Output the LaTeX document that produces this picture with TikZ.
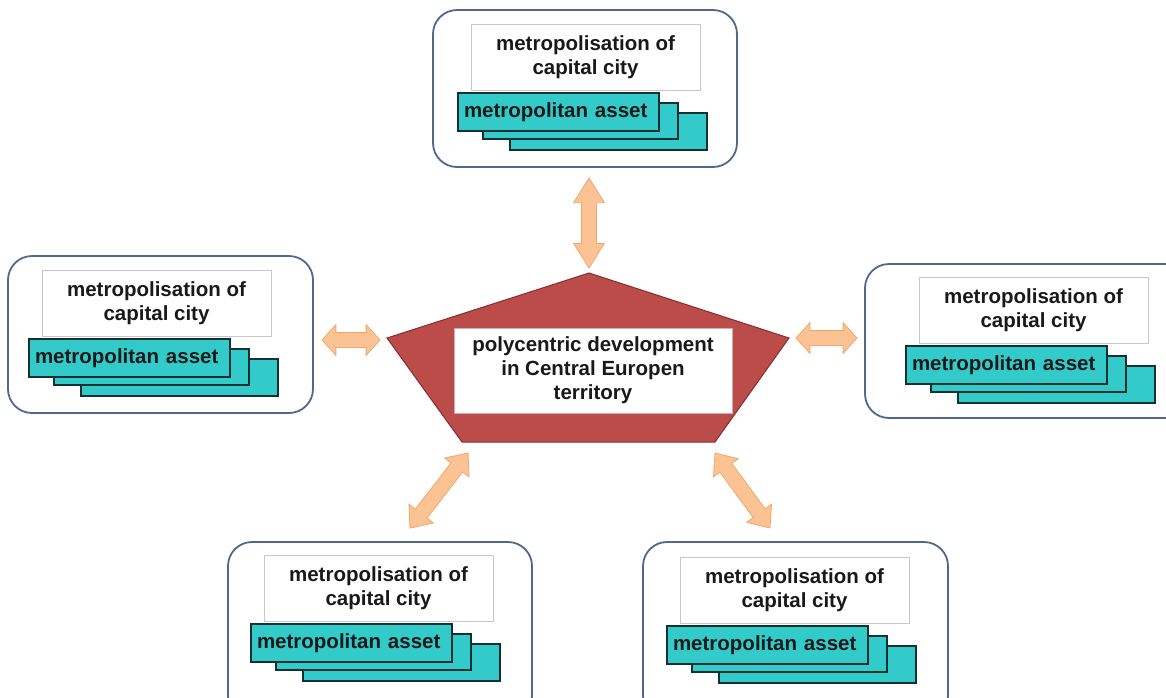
\documentclass[tikz,border=0pt]{standalone}
\usepackage{fontspec}
\setmainfont{Liberation Sans}
\usetikzlibrary{shapes.arrows}

\definecolor{framecol}{RGB}{78,104,142}
\definecolor{assetfill}{RGB}{51,202,202}
\definecolor{assetline}{RGB}{22,48,50}
\definecolor{labelline}{RGB}{200,200,200}
\definecolor{hubfill}{RGB}{188,76,73}
\definecolor{hubline}{RGB}{135,45,45}
\definecolor{linkfill}{RGB}{251,194,148}
\definecolor{linkline}{RGB}{240,168,110}

\tikzset{
  txt/.style={font=\bfseries\fontsize{20.5}{24}\selectfont, text=black!90},
  cityframe/.style={draw=framecol, line width=1.8pt, rounded corners=24pt, fill=white},
  labelbox/.style={txt, draw=labelline, fill=white, line width=0.8pt,
    minimum width=229pt, minimum height=66pt, align=center, inner sep=0pt},
  assetbox/.style={draw=assetline, fill=assetfill, line width=1.4pt, inner sep=0pt},
  hubbox/.style={txt, fill=white, draw=hubline!40, line width=0.6pt,
    minimum width=278pt, minimum height=85pt, align=center, inner sep=0pt},
  link/.style={double arrow, sloped, fill=linkfill, draw=linkline, line width=0.8pt,
    inner xsep=0pt, inner ysep=7pt, double arrow head extend=8pt,
    double arrow tip angle=80},
  % one city panel: origin at the top-left corner of the label box
  city/.pic={
    \node[assetbox, minimum width=197pt, minimum height=37pt] (-back) at (137.5,107.5) {};
    \node[assetbox, minimum width=195pt, minimum height=36pt] (-mid) at (109.5,97) {};
    \node[assetbox, txt, minimum height=38pt, text width=189pt, inner xsep=6pt,
      align=left] (-asset) at (87.5,88) {metropolitan asset};
    \node[labelbox] (-label) at (114.5,33) {metropolisation of\\capital city};
  }
}

\begin{document}
\begin{tikzpicture}[x=1pt, y=-1pt]
  \useasboundingbox (0,0) rectangle (1166,697);
  \clip (0,0) rectangle (1166,697);

  % panel frames
  \draw[cityframe] (433,10) rectangle (737,167);
  \draw[cityframe] (8,256) rectangle (313,413);
  \draw[cityframe] (865,264) rectangle (1190,418);
  \draw[cityframe] (228,542) rectangle (532,720);
  \draw[cityframe] (643,542) rectangle (948,720);

  % panel contents
  \pic (north) at (471,24) {city};
  \pic (west) at (42,270) {city};
  \pic (east) at (919,277) {city};
  \pic (southwest) at (264,555) {city};
  \pic (southeast) at (680,557) {city};

  % central pentagon
  \coordinate (p1) at (589,273);
  \coordinate (p2) at (789,338);
  \coordinate (p3) at (715,442);
  \coordinate (p4) at (462,442);
  \coordinate (p5) at (387,338);
  \filldraw[fill=hubfill, draw=hubline, line width=1pt, line join=miter]
    (p1) -- (p2) -- (p3) -- (p4) -- (p5) -- cycle;
  \node[hubbox] (hub) at (593,370.5) {polycentric development\\in Central Europen\\territory};

  % two-way links between the centre and the panels
  \coordinate (nA) at (589,178); \coordinate (nB) at (589,268);
  \coordinate (wA) at (322,340); \coordinate (wB) at (380,340);
  \coordinate (eA) at (796,338); \coordinate (eB) at (857,338);
  \coordinate (swA) at (468,453); \coordinate (swB) at (410,528);
  \coordinate (seA) at (715,453); \coordinate (seB) at (770,528);

  \path (nA) -- node[link, minimum height=90pt, double arrow tip angle=64] (nlink) {} (nB);
  \path (wA) -- node[link, minimum height=58pt, double arrow tip angle=96] (wlink) {} (wB);
  \path (eA) -- node[link, minimum height=61pt, double arrow tip angle=96] (elink) {} (eB);
  \path (swA) -- node[link, minimum height=95pt] (swlink) {} (swB);
  \path (seA) -- node[link, minimum height=93pt] (selink) {} (seB);
\end{tikzpicture}
\end{document}
